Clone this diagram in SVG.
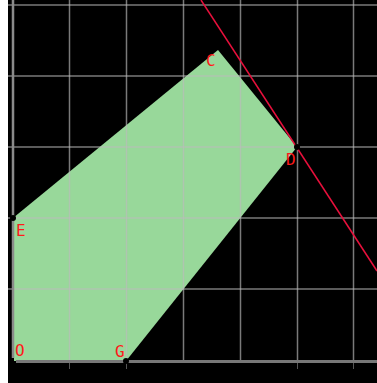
<svg xmlns="http://www.w3.org/2000/svg" width="377" height="383" viewBox="0 0 377 383">
  <style>
    .grid { stroke: #bcbcbc; stroke-opacity: 0.65; stroke-width: 1.5; fill: none; }
    .lbl { font-family: "DejaVu Sans Mono", "Liberation Mono", monospace; font-size: 16px; fill: #ff1a1a; }
    .pt { fill: #000000; }
  </style>
  <rect x="0" y="0" width="377" height="383" fill="#000000"/>
  <rect x="0" y="0" width="8" height="383" fill="#ffffff"/>
  <g id="region">
    <polygon points="14,361 126,361 297,147 218,50 13,218" fill="#98d89a"/>
  </g>
  <g id="grid">
    <line class="grid" x1="8" y1="5" x2="377" y2="5"/>
    <line class="grid" x1="8" y1="76" x2="377" y2="76"/>
    <line class="grid" x1="8" y1="147" x2="377" y2="147"/>
    <line class="grid" x1="8" y1="218" x2="377" y2="218"/>
    <line class="grid" x1="8" y1="289" x2="377" y2="289"/>
    <line class="grid" x1="69.5" y1="0" x2="69.5" y2="360"/>
    <line class="grid" x1="126.5" y1="0" x2="126.5" y2="360"/>
    <line class="grid" x1="183.5" y1="0" x2="183.5" y2="360"/>
    <line class="grid" x1="240.5" y1="0" x2="240.5" y2="360"/>
    <line class="grid" x1="297.5" y1="0" x2="297.5" y2="360"/>
    <line class="grid" x1="353.5" y1="0" x2="353.5" y2="360"/>
    <line x1="13" y1="0" x2="13" y2="358" stroke="#8a8a8a" stroke-width="2.5"/>
    <line x1="16" y1="361.5" x2="377" y2="361.5" stroke="#777777" stroke-width="3"/>
    <g stroke="#555555" stroke-width="1">
      <line x1="69.5" y1="363" x2="69.5" y2="369"/>
      <line x1="126.5" y1="363" x2="126.5" y2="369"/>
      <line x1="297.5" y1="363" x2="297.5" y2="369"/>
      <line x1="353.5" y1="363" x2="353.5" y2="369"/>
    </g>
  </g>
  <g id="connectors">
    <line x1="201" y1="0" x2="377" y2="271" stroke="#e8103c" stroke-width="1.5"/>
  </g>
  <g id="O">
    <text class="lbl" x="15" y="356">O</text>
  </g>
  <g id="G">
    <circle class="pt" cx="126" cy="361" r="3"/>
    <text class="lbl" x="115" y="357">G</text>
  </g>
  <g id="D">
    <circle class="pt" cx="297" cy="147" r="3"/>
    <text class="lbl" x="286" y="165">D</text>
  </g>
  <g id="C">
    <text class="lbl" x="206" y="66">C</text>
  </g>
  <g id="E">
    <circle class="pt" cx="13" cy="218" r="3"/>
    <text class="lbl" x="16" y="236">E</text>
  </g>
</svg>
